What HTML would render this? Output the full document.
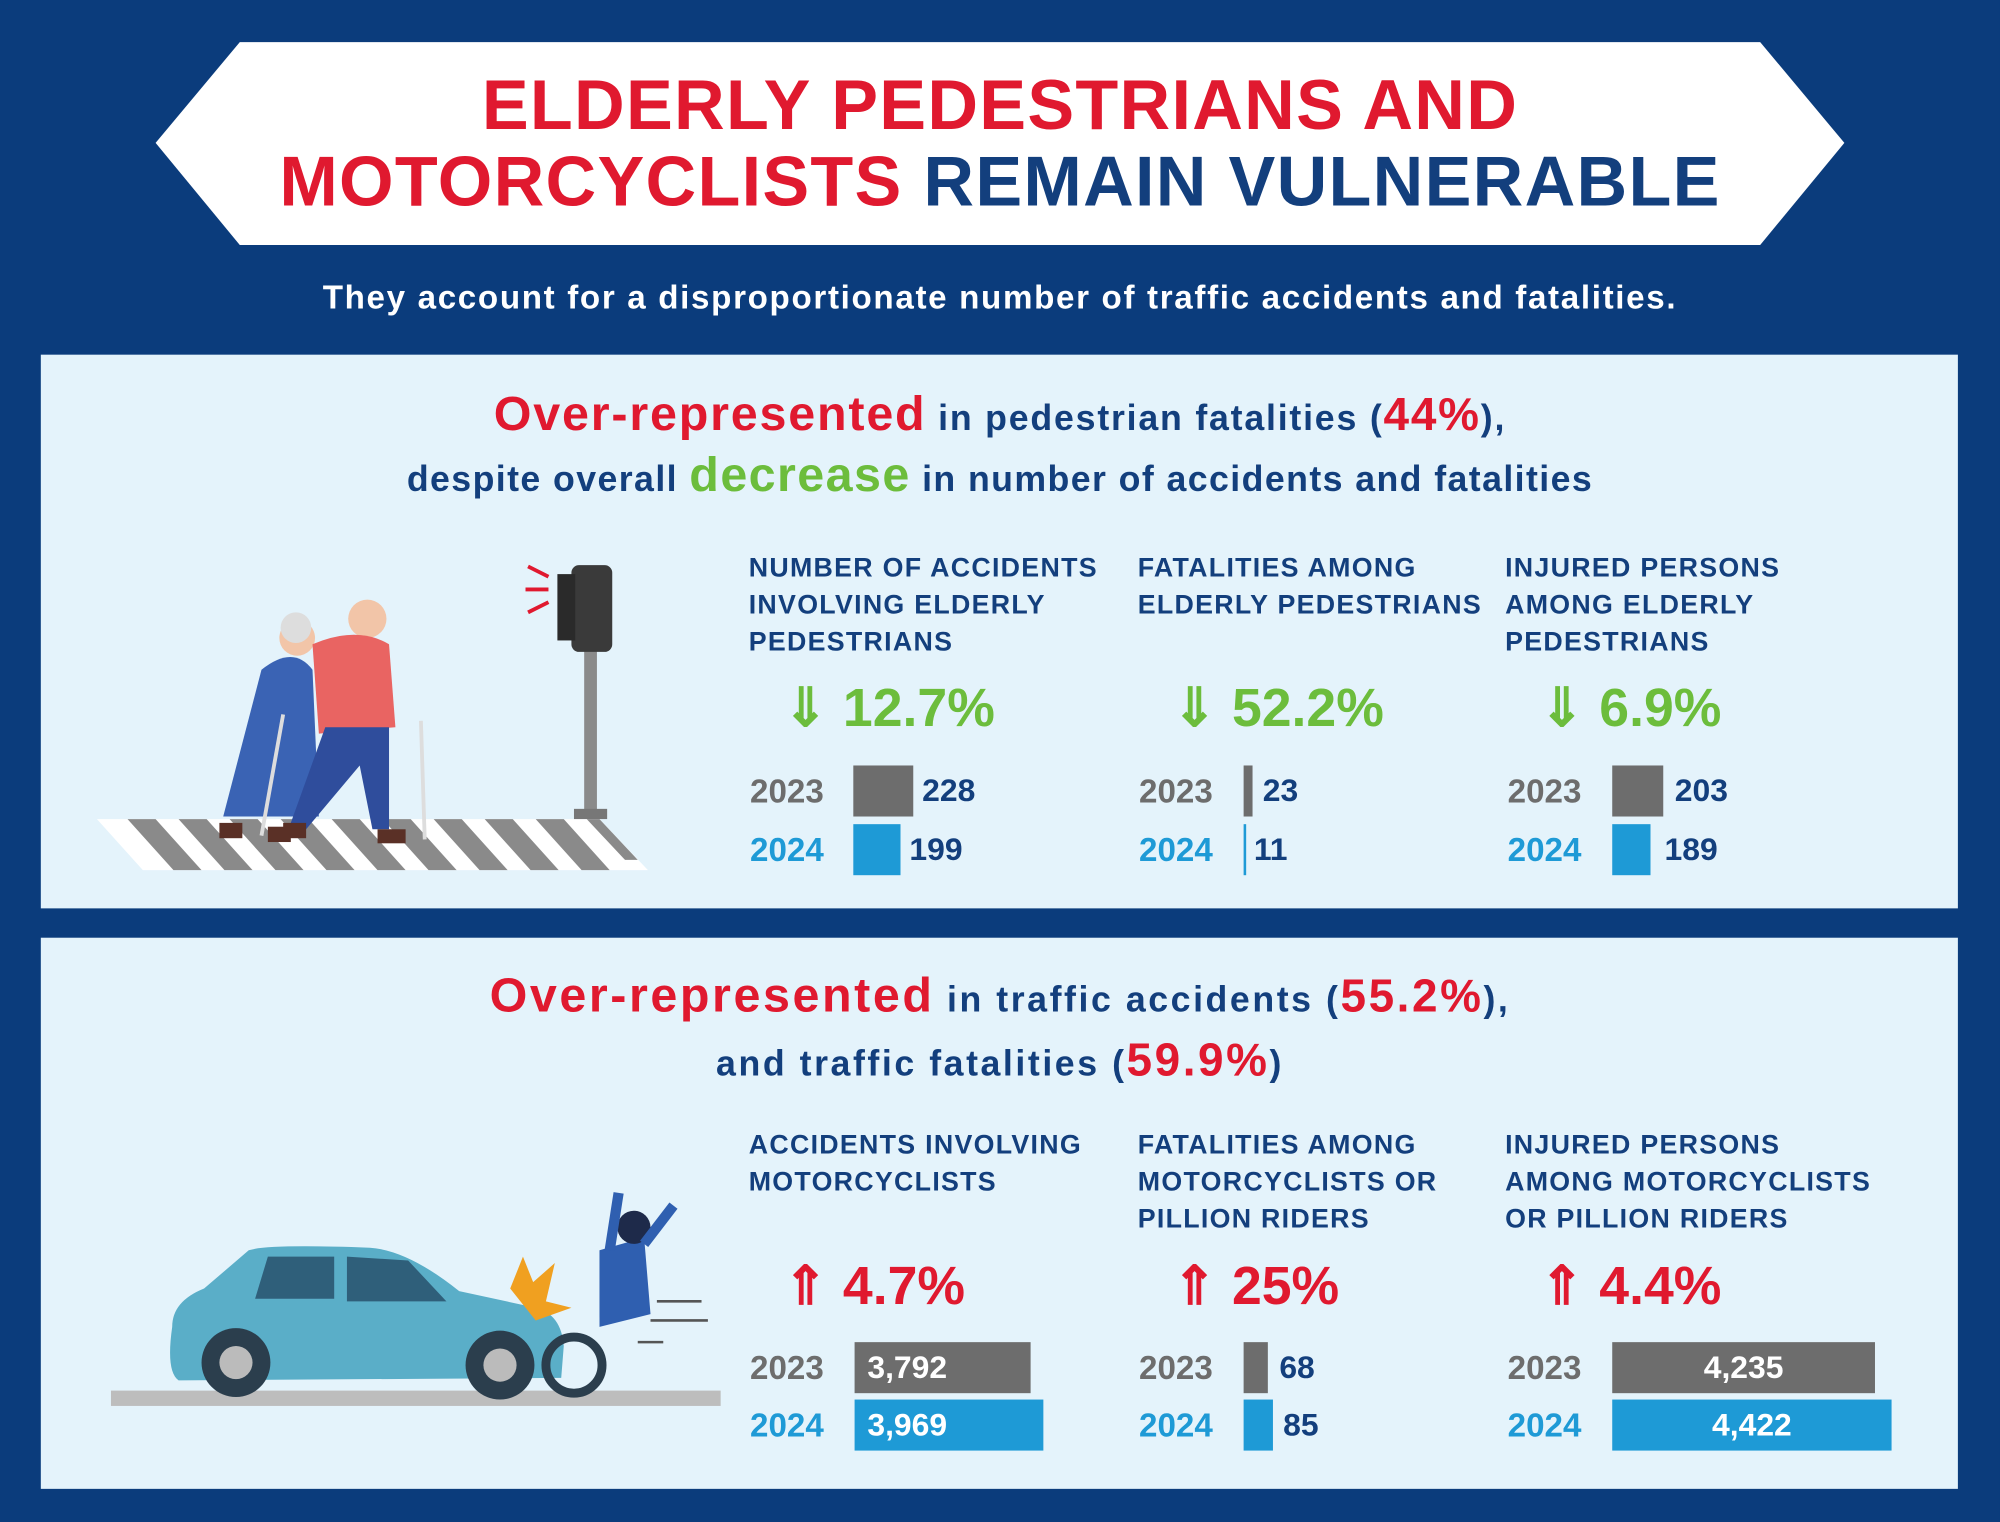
<!DOCTYPE html>
<html><head><meta charset="utf-8"><style>
*{margin:0;padding:0;box-sizing:border-box}
body{width:2000px;height:1522px;overflow:hidden;background:#0b3c7c;font-family:"Liberation Sans",sans-serif}
#w{width:1568px;height:1193px;transform:scale(1.2755,1.2758);transform-origin:0 0;position:relative;background:#0b3c7c}
.a{position:absolute;white-space:nowrap}
.red{color:#e0192f}.navy{color:#133f7d}.green{color:#6cbd3c}
.panel{position:absolute;left:32px;width:1503px;background:#e4f3fb}
.lbl{position:absolute;font-weight:bold;font-size:21px;line-height:29px;color:#133f7d;letter-spacing:1px}
.pct{position:absolute;font-weight:bold;font-size:42px;line-height:44px}
.yr{position:absolute;font-weight:bold;font-size:26px;line-height:40px}
.bar{position:absolute;height:40px}
.g{background:#6d6d6d}.b{background:#1e9ad6}
.v{position:absolute;font-weight:bold;font-size:25px;line-height:40px;color:#133f7d}
.vi{color:#fff;padding-left:10px}
</style></head><body><div id="w">
<svg class="a" style="left:0;top:0" width="1568" height="200"><polygon points="122,112 188,33 1380,33 1446,112 1380,192 188,192" fill="#fff"/></svg>
<div class="a red" style="left:0;width:1568px;text-align:center;top:52px;font-size:55px;font-weight:bold;line-height:60px;letter-spacing:1px">ELDERLY PEDESTRIANS AND</div>
<div class="a" style="left:0;width:1568px;text-align:center;top:112px;font-size:55px;font-weight:bold;line-height:60px;letter-spacing:1px"><span class="red">MOTORCYCLISTS</span> <span class="navy">REMAIN VULNERABLE</span></div>
<div class="a" style="left:0;width:1568px;text-align:center;top:218px;font-size:26px;font-weight:bold;color:#fff;letter-spacing:1.3px">They account for a disproportionate number of traffic accidents and fatalities.</div>

<div class="panel" style="top:278px;height:434px"></div>
<div class="panel" style="top:735px;height:432px"></div>

<div class="a navy" style="left:0;width:1568px;text-align:center;top:304px;font-size:28px;font-weight:bold;letter-spacing:1.4px"><span class="red" style="font-size:38px">Over-represented</span> in pedestrian fatalities (<span class="red" style="font-size:36px">44%</span>),</div>
<div class="a navy" style="left:0;width:1568px;text-align:center;top:352px;font-size:28px;font-weight:bold;letter-spacing:1.1px">despite overall <span class="green" style="font-size:38px">decrease</span> in number of accidents and fatalities</div>

<div class="lbl" style="left:587px;top:431px">NUMBER OF ACCIDENTS<br>INVOLVING ELDERLY<br>PEDESTRIANS</div>
<div class="lbl" style="left:892px;top:431px">FATALITIES AMONG<br>ELDERLY PEDESTRIANS</div>
<div class="lbl" style="left:1180px;top:431px">INJURED PERSONS<br>AMONG ELDERLY<br>PEDESTRIANS</div>

<div class="pct green" style="left:614px;top:533px">&#8659; 12.7%</div>
<div class="pct green" style="left:919px;top:533px">&#8659; 52.2%</div>
<div class="pct green" style="left:1207px;top:533px">&#8659; 6.9%</div>

<div class="yr" style="left:588px;top:600px;color:#6d6d6d">2023</div><div class="yr" style="left:588px;top:646px;color:#1e9ad6">2024</div>
<div class="bar g" style="left:669px;top:600px;width:47px"></div><div class="v" style="left:723px;top:600px">228</div>
<div class="bar b" style="left:669px;top:646px;width:37px"></div><div class="v" style="left:713px;top:646px">199</div>
<div class="yr" style="left:893px;top:600px;color:#6d6d6d">2023</div><div class="yr" style="left:893px;top:646px;color:#1e9ad6">2024</div>
<div class="bar g" style="left:975px;top:600px;width:7px"></div><div class="v" style="left:990px;top:600px">23</div>
<div class="bar b" style="left:975px;top:646px;width:2px"></div><div class="v" style="left:983px;top:646px">11</div>
<div class="yr" style="left:1182px;top:600px;color:#6d6d6d">2023</div><div class="yr" style="left:1182px;top:646px;color:#1e9ad6">2024</div>
<div class="bar g" style="left:1264px;top:600px;width:40px"></div><div class="v" style="left:1313px;top:600px">203</div>
<div class="bar b" style="left:1264px;top:646px;width:30px"></div><div class="v" style="left:1305px;top:646px">189</div>

<div class="a navy" style="left:0;width:1568px;text-align:center;top:760px;font-size:28px;font-weight:bold;letter-spacing:2px"><span class="red" style="font-size:38px">Over-represented</span> in traffic accidents (<span class="red" style="font-size:36px">55.2%</span>),</div>
<div class="a navy" style="left:0;width:1568px;text-align:center;top:810px;font-size:28px;font-weight:bold;letter-spacing:2px">and traffic fatalities (<span class="red" style="font-size:36px">59.9%</span>)</div>

<div class="lbl" style="left:587px;top:883px">ACCIDENTS INVOLVING<br>MOTORCYCLISTS</div>
<div class="lbl" style="left:892px;top:883px">FATALITIES AMONG<br>MOTORCYCLISTS OR<br>PILLION RIDERS</div>
<div class="lbl" style="left:1180px;top:883px">INJURED PERSONS<br>AMONG MOTORCYCLISTS<br>OR PILLION RIDERS</div>

<div class="pct red" style="left:614px;top:986px">&#8657; 4.7%</div>
<div class="pct red" style="left:919px;top:986px">&#8657; 25%</div>
<div class="pct red" style="left:1207px;top:986px">&#8657; 4.4%</div>

<div class="yr" style="left:588px;top:1052px;color:#6d6d6d">2023</div><div class="yr" style="left:588px;top:1097px;color:#1e9ad6">2024</div>
<div class="bar g v vi" style="left:670px;top:1052px;width:138px">3,792</div>
<div class="bar b v vi" style="left:670px;top:1097px;width:148px">3,969</div>
<div class="yr" style="left:893px;top:1052px;color:#6d6d6d">2023</div><div class="yr" style="left:893px;top:1097px;color:#1e9ad6">2024</div>
<div class="bar g" style="left:975px;top:1052px;width:19px"></div><div class="v" style="left:1003px;top:1052px">68</div>
<div class="bar b" style="left:975px;top:1097px;width:23px"></div><div class="v" style="left:1006px;top:1097px">85</div>
<div class="yr" style="left:1182px;top:1052px;color:#6d6d6d">2023</div><div class="yr" style="left:1182px;top:1097px;color:#1e9ad6">2024</div>
<div class="bar g v" style="left:1264px;top:1052px;width:206px;color:#fff;text-align:center">4,235</div>
<div class="bar b v" style="left:1264px;top:1097px;width:219px;color:#fff;text-align:center">4,422</div>

<svg class="a" style="left:0;top:0" width="1568" height="1193">
<polygon points="76,642 470,642 508,682 112,682" fill="#fff"/>
<g fill="#8a8a8a">
<polygon points="100,642 122,642 158,682 136,682"/><polygon points="140,642 162,642 198,682 176,682"/><polygon points="180,642 202,642 238,682 216,682"/><polygon points="220,642 242,642 278,682 256,682"/><polygon points="260,642 282,642 318,682 296,682"/><polygon points="300,642 322,642 358,682 336,682"/><polygon points="340,642 362,642 398,682 376,682"/><polygon points="380,642 402,642 438,682 416,682"/><polygon points="420,642 442,642 478,682 456,682"/><polygon points="460,642 470,642 500,674 490,674"/></g>
<rect x="458" y="505" width="10" height="135" fill="#8a8a8a"/><rect x="450" y="634" width="26" height="8" fill="#777"/>
<rect x="448" y="443" width="32" height="68" rx="6" fill="#3a3a3a"/><rect x="437" y="450" width="14" height="52" fill="#2a2a2a"/>
<g stroke="#e0192f" stroke-width="3"><line x1="414" y1="444" x2="430" y2="452"/><line x1="412" y1="462" x2="430" y2="462"/><line x1="414" y1="480" x2="430" y2="472"/></g>
<circle cx="233" cy="500" r="14" fill="#f2c5a8"/><circle cx="232" cy="492" r="12" fill="#ddd"/>
<path d="M205 525 Q230 505 245 525 L250 640 L175 640 Z" fill="#3a63b4"/>
<line x1="222" y1="560" x2="205" y2="655" stroke="#ddd" stroke-width="3"/>
<circle cx="288" cy="485" r="15" fill="#f2c5a8"/>
<path d="M245 505 Q280 490 305 505 L310 570 L250 575 Z" fill="#e96462"/>
<path d="M255 570 L305 570 L305 650 L292 650 L282 600 L240 650 L228 645 Z" fill="#2f4d9c"/>
<line x1="330" y1="565" x2="333" y2="658" stroke="#ddd" stroke-width="3"/>
<g fill="#5a3026"><rect x="172" y="645" width="18" height="12"/><rect x="210" y="648" width="18" height="12"/><rect x="222" y="645" width="18" height="12"/><rect x="296" y="650" width="22" height="11"/></g>
<rect x="87" y="1090" width="478" height="12" fill="#bdbdbd"/>
<path d="M135 1040 Q135 1020 160 1010 L195 980 Q210 975 290 978 Q320 980 360 1012 L420 1025 Q440 1030 442 1055 L440 1080 L140 1082 Q130 1075 135 1040 Z" fill="#5aaec8"/>
<g fill="#2f5f7a"><polygon points="210,985 262,985 262,1018 200,1018"/><polygon points="272,985 320,988 350,1020 272,1020"/></g>
<circle cx="185" cy="1068" r="27" fill="#2b3e4d"/><circle cx="185" cy="1068" r="13" fill="#bbb"/>
<circle cx="392" cy="1070" r="27" fill="#2b3e4d"/><circle cx="392" cy="1070" r="13" fill="#bbb"/>
<polygon points="400,1010 410,985 418,1005 435,990 428,1020 448,1025 420,1035" fill="#f0a020"/>
<circle cx="450" cy="1070" r="22" fill="none" stroke="#2b3e4d" stroke-width="7"/>
<path d="M470 980 L505 970 L510 1030 L470 1040 Z" fill="#2f5fb0"/>
<circle cx="497" cy="962" r="13" fill="#1e2a4a"/>
<g stroke="#2f5fb0" stroke-width="8"><line x1="478" y1="980" x2="485" y2="935"/><line x1="505" y1="975" x2="528" y2="945"/></g>
<g stroke="#555" stroke-width="2"><line x1="515" y1="1020" x2="550" y2="1020"/><line x1="510" y1="1035" x2="555" y2="1035"/><line x1="500" y1="1052" x2="520" y2="1052"/></g>
</svg>
</div></body></html>
